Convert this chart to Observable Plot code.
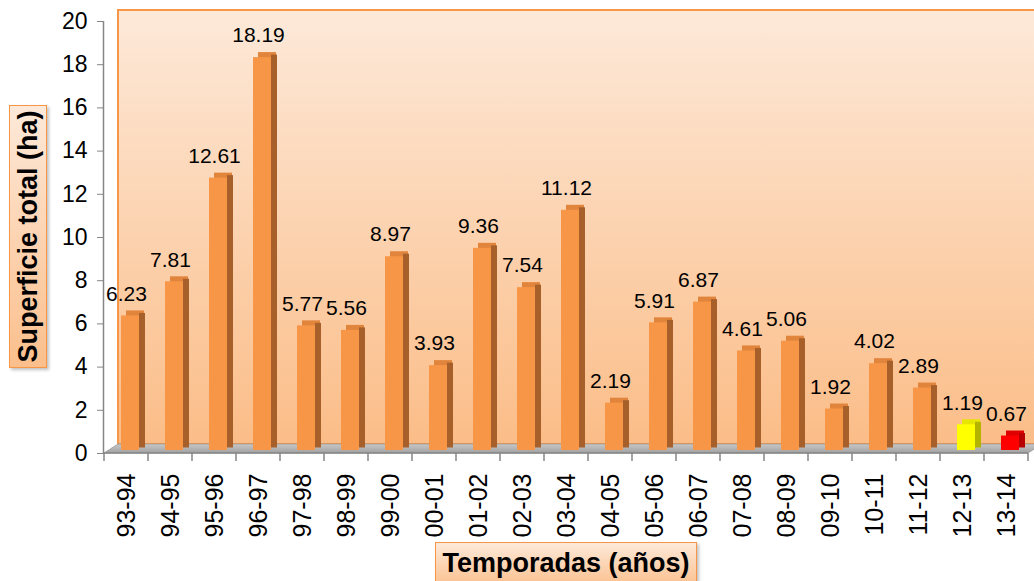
<!DOCTYPE html>
<html>
<head>
<meta charset="utf-8">
<script src="https://cdn.jsdelivr.net/npm/d3@7"></script>
<script src="https://cdn.jsdelivr.net/npm/@observablehq/plot@0.6"></script>
<style>
  body { margin: 0; background: #ffffff; font-family: "Liberation Sans", Arial, sans-serif; }
  #wrap { position: relative; width: 1034px; height: 581px; overflow: hidden; }
  .box { position: absolute; background: linear-gradient(#fde9d9, #fbbf8c); border: 1.5px solid #f79646;
         font-weight: bold; color: #000; box-shadow: 2px 2px 3px rgba(0,0,0,0.25); box-sizing: border-box;
         display: flex; align-items: center; justify-content: center; white-space: nowrap; }
  #ytitle span { transform: rotate(-90deg); display: inline-block; }
</style>
</head>
<body>
<div id="wrap">
  <div id="chart"></div>
  <div class="box" id="ytitle" style="left:9px;top:105px;width:38px;height:263px;font-size:27px;"><span>Superficie total (ha)</span></div>
  <div class="box" id="xtitle" style="left:435px;top:542px;width:262px;height:46px;font-size:27px;padding-bottom:4px;">Temporadas (años)</div>
</div>
<script>
const seasons = ["93-94","94-95","95-96","96-97","97-98","98-99","99-00","00-01","01-02","02-03","03-04",
                 "04-05","05-06","06-07","07-08","08-09","09-10","10-11","11-12","12-13","13-14"];
const surface = [6.23,7.81,12.61,18.19,5.77,5.56,8.97,3.93,9.36,7.54,11.12,2.19,5.91,6.87,4.61,5.06,1.92,4.02,2.89,1.19,0.67];
const yTicks = [0,2,4,6,8,10,12,14,16,18,20];

const data = seasons.map((s, i) => ({season: s, value: surface[i]}));

const front = d => d.season === "12-13" ? "#ffff00" : d.season === "13-14" ? "#ff0000" : "#f79646";
const topc  = d => d.season === "12-13" ? "#e6e600" : d.season === "13-14" ? "#e00000" : "#e2853c";
const side  = d => d.season === "12-13" ? "#b3b300" : d.season === "13-14" ? "#b80000" : "#a8602a";

function panel(index, scales, values, dims) {
  const x0 = dims.marginLeft, x1 = dims.width - dims.marginRight;
  const y0 = scales.y(0), yTop = scales.y(20);
  const ddx = 14, ddy = -9;
  const g = d3.create("svg:g");
  const defs = g.append("defs");
  const lg = defs.append("linearGradient").attr("id", "bgGrad").attr("x1", 0).attr("y1", 0).attr("x2", 0).attr("y2", 1);
  lg.append("stop").attr("offset", "0%").attr("stop-color", "#fde9d9");
  lg.append("stop").attr("offset", "100%").attr("stop-color", "#fbbd88");
  const fg = defs.append("linearGradient").attr("id", "floorGrad").attr("x1", 0).attr("y1", 0).attr("x2", 0).attr("y2", 1);
  fg.append("stop").attr("offset", "0%").attr("stop-color", "#c8c8c8");
  fg.append("stop").attr("offset", "100%").attr("stop-color", "#a0a0a0");
  g.append("rect").attr("x", x0 + ddx).attr("y", yTop - 11)
    .attr("width", dims.width - x0 - ddx + 10).attr("height", (y0 + ddy) - (yTop - 11))
    .attr("fill", "url(#bgGrad)").attr("stroke", "#f79646").attr("stroke-width", 2);
  g.append("polygon")
    .attr("points", [[x0, y0], [x0 + ddx, y0 + ddy], [x1 + ddx, y0 + ddy], [x1, y0]].map(p => p.join(",")).join(" "))
    .attr("fill", "url(#floorGrad)").attr("stroke", "#9a9a9a").attr("stroke-width", 0.8);
  return g.node();
}

function axes(index, scales, values, dims) {
  const x0 = dims.marginLeft, x1 = dims.width - dims.marginRight;
  const y0 = scales.y(0), yTop = scales.y(20);
  const g = d3.create("svg:g").attr("stroke", "#868686").attr("stroke-width", 1.5);
  g.append("line").attr("x1", x0 - 0.5).attr("x2", x0 - 0.5).attr("y1", yTop).attr("y2", y0);
  g.append("line").attr("x1", x0).attr("x2", x1).attr("y1", y0).attr("y2", y0);
  const bw = scales.x.bandwidth();
  const bounds = seasons.map(s => scales.x(s)).concat([scales.x(seasons[seasons.length - 1]) + bw]);
  for (const bx of bounds) g.append("line").attr("x1", bx).attr("x2", bx).attr("y1", y0).attr("y2", y0 + 8);
  return g.node();
}

const chart = Plot.plot({
  width: 1034,
  height: 581,
  marginTop: 21,
  marginBottom: 128,
  marginLeft: 104,
  marginRight: 6,
  style: {fontFamily: "'Liberation Sans', Arial, sans-serif", fontSize: "20px", color: "#000", background: "transparent", overflow: "visible"},
  x: {domain: seasons, padding: 0, label: null},
  y: {domain: [0, 20], label: null},
  color: {type: "identity"},
  marks: [
    panel,
    Plot.barY(data, {x: "season", y: "value", fill: topc, insetLeft: 17, insetRight: 9, dx: 5, dy: -8}),
    Plot.barY(data, {x: "season", y: "value", fill: side, insetLeft: 35, insetRight: 3, dy: -5.5}),
    Plot.barY(data, {x: "season", y: "value", fill: front, insetLeft: 17, insetRight: 9, dy: -3}),
    axes,
    Plot.axisY({ticks: yTicks, tickSize: 7, tickPadding: 10, stroke: "#868686", fill: "#000", fontSize: 23, label: null}),
    Plot.axisX({tickRotate: -90, tickSize: 0, tickPadding: 20, fill: "#000", fontSize: 25, label: null}),
    Plot.text(data, {x: "season", y: "value", text: d => d.value.toFixed(2), dy: -25, fontSize: 21, fill: "#000"})
  ]
});
document.getElementById("chart").appendChild(chart);
</script>
</body>
</html>
